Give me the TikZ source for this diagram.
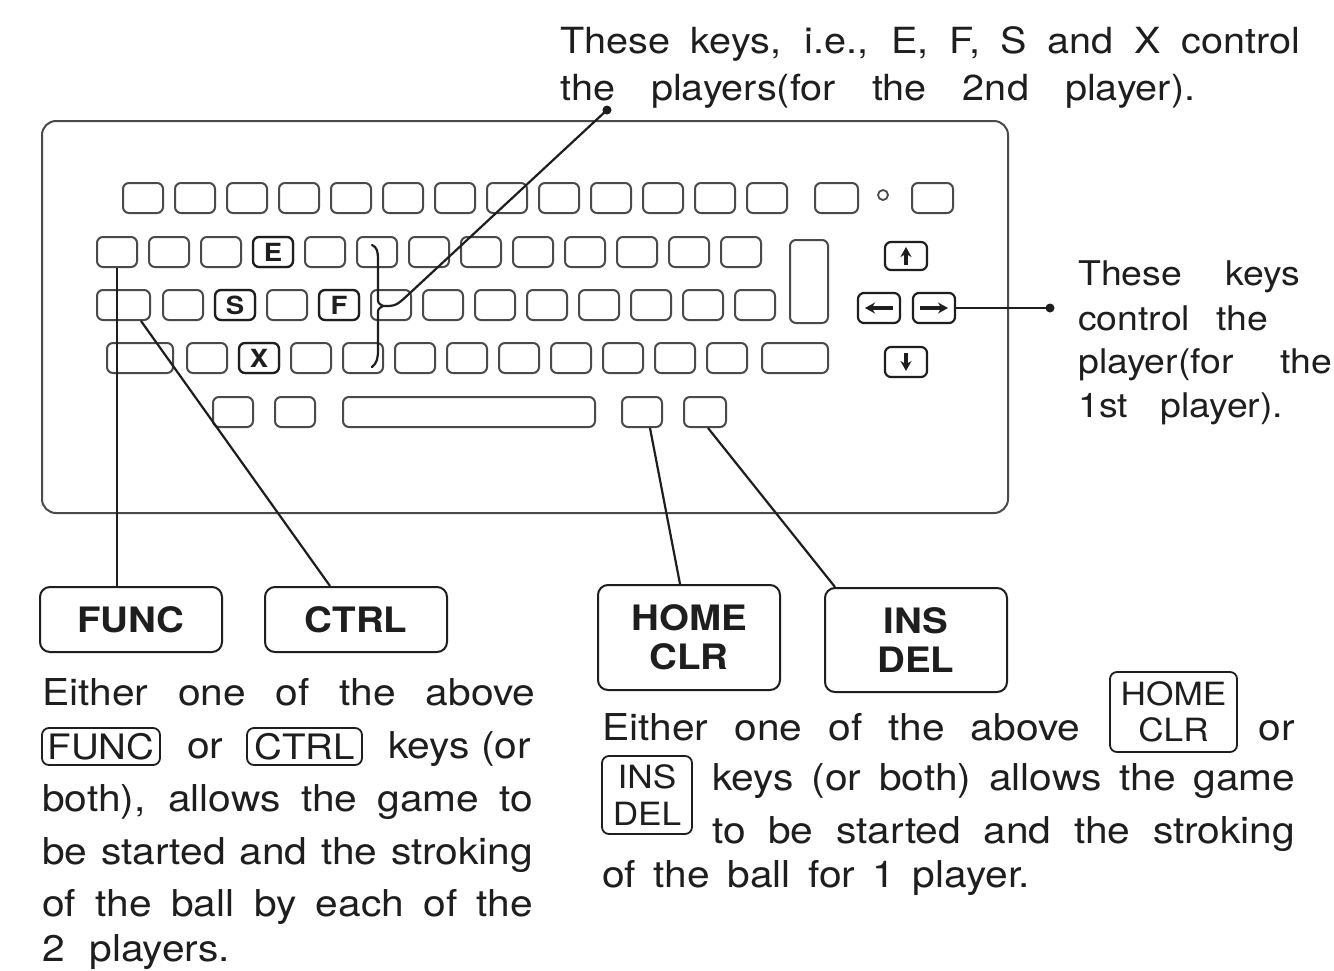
\documentclass[tikz,border=0pt]{standalone}
\usepackage{fontspec}
\setmainfont[FakeStretch=1.1]{TeX Gyre Heros}
\usetikzlibrary{arrows.meta}
\definecolor{ink}{HTML}{1E1E1E}
\definecolor{keygray}{HTML}{4A4A4A}
\tikzset{
  key/.style={draw=keygray, line width=2pt, rounded corners=6pt, minimum width=40pt, minimum height=30pt, inner sep=0pt},
  keyb/.style={key, draw=ink, line width=2.2pt},
  keylab/.style={font=\bfseries\fontsize{25}{25}\selectfont, text=ink, inner sep=0pt},
  lab/.style={draw=ink, line width=2pt, rounded corners=10pt, minimum width=182pt, inner sep=0pt, align=center, text=ink, font=\bfseries\fontsize{35}{39}\selectfont},
  ibox/.style={draw=ink, line width=1.8pt, rounded corners=7pt, inner sep=0pt, align=center, text=ink},
  body/.style={font=\fontsize{37}{44}\selectfont, text=ink, inner sep=0pt, anchor=base west},
  side/.style={font=\fontsize{34}{40}\selectfont, text=ink, inner sep=0pt, anchor=base west},
  lead/.style={draw=ink, line width=2.2pt},
  arr/.style={draw=ink, line width=3.2pt, -{Stealth[length=10pt,width=11pt]}},
  dot/.style={circle, fill=ink, inner sep=0pt, minimum size=9pt}
}
\begin{document}
\begin{tikzpicture}[x=1pt,y=-1pt]
\useasboundingbox (0,0) rectangle (1334,970);
\fill[white] (0,0) rectangle (1334,970);

% keyboard body
\draw[draw=keygray, line width=2pt, rounded corners=14pt] (42,121) rectangle (1008,513);

% row 1
\foreach \i in {0,...,12} \node[key] (r1k\i) at ({143+52*\i},198) {};
\node[key, minimum width=43pt] (r1a) at (836.5,198) {};
\node[circle, draw=keygray, line width=1.8pt, minimum size=10pt, inner sep=0pt] (deg) at (883,195) {};
\node[key, minimum width=41pt] (r1b) at (932.5,198) {};

% row 2
\foreach \i in {0,...,12} \node[key] (r2k\i) at ({117+52*\i},252) {};
\node[key, minimum width=38pt, minimum height=83pt] (ret) at (809,281.5) {};
\node[keyb, minimum width=42pt, minimum height=28pt] (up) at (906,256) {};

% row 3
\node[key, minimum width=53pt] (r3k0) at (123.5,305) {};
\foreach \i in {1,...,12} \node[key] (r3k\i) at ({131+52*\i},305) {};
\node[keyb, minimum width=42pt] (lt) at (879,308) {};
\node[keyb, minimum width=42pt] (rt) at (934,308) {};

% row 4
\node[key, minimum width=66pt] (r4k0) at (140,358) {};
\foreach \i in {1,...,11} \node[key] (r4k\i) at ({155+52*\i},358) {};
\node[key, minimum width=66pt] (r4k12) at (795,358) {};
\node[keyb, minimum width=42pt] (dn) at (906,362) {};

% row 5
\node[key] (r5k0) at (233,412) {};
\node[key] (r5k1) at (295,412) {};
\node[key, minimum width=252pt] (space) at (469,412) {};
\node[key] (r5k3) at (642,412) {};
\node[key, minimum width=42pt] (r5k4) at (705,412) {};

% marked keys
\node[keyb] (kE) at (r2k3) {};
\node[keylab] (lE) at (r2k3) {E};
\node[keyb] (kS) at (r3k2) {};
\node[keylab] (lS) at (r3k2) {S};
\node[keyb] (kF) at (r3k4) {};
\node[keylab] (lF) at (r3k4) {F};
\node[keyb] (kX) at (r4k2) {};
\node[keylab] (lX) at (r4k2) {X};

% arrow glyphs
\draw[arr] ([yshift=-9pt]up.center) -- ([yshift=9pt]up.center);
\draw[arr] ([yshift=9pt]dn.center) -- ([yshift=-9pt]dn.center);
\draw[arr] ([xshift=14pt]lt.center) -- ([xshift=-14pt]lt.center);
\draw[arr] ([xshift=-14pt]rt.center) -- ([xshift=14pt]rt.center);

% brace and top leader
\coordinate (tip) at (383,306);
\coordinate (bend) at (410,293);
\draw[lead, line cap=round] (372,245) .. controls (377,247) and (378,252) .. (378,259) -- (378,298) .. controls (378,303) .. (tip) .. controls (378,309) .. (378,314) -- (378,350) .. controls (378,358) and (377,363) .. (372,367);
\node[dot] (dtop) at (607,110) {};
\draw[lead] (tip) .. controls (396,306) .. (bend) -- (dtop.center);

% top text
\node[body, font=\fontsize{36}{44}\selectfont] (t1) at (560,53) {\makebox[740pt][s]{These keys, i.e., E, F, S and X control}};
\node[body, font=\fontsize{36}{44}\selectfont] (t2) at (560,100) {\makebox[635pt][s]{the players(for the 2nd player).}};

% right side text
\node[dot] (dright) at (1050,308) {};
\draw[lead] (rt.east) -- (dright.center);
\node[side] (s1) at (1078,285) {\makebox[222pt][s]{These keys}};
\node[side] (s2) at (1078,330) {\makebox[190pt][s]{control the}};
\node[side] (s3) at (1078,373) {\makebox[254pt][s]{player(for the}};
\node[side] (s4) at (1078,417) {\makebox[205pt][s]{1st player).}};

% label boxes
\node[lab, minimum height=65pt] (func) at (131,619.5) {FUNC};
\node[lab, minimum height=65pt] (ctrl) at (356,619.5) {CTRL};
\node[lab, minimum height=105pt] (home) at (689,637.5) {HOME\\CLR};
\node[lab, minimum height=104pt] (ins) at (916,640) {INS\\DEL};

% connectors to label boxes
\draw[lead] (r2k0.south) -- (r2k0.south |- func.north);
\draw[lead] ([xshift=-10pt]r3k0.south east) -- ([xshift=-26pt]ctrl.north);
\draw[lead] ([xshift=8pt]r5k3.south) -- ([xshift=-9pt]home.north);
\draw[lead] ([xshift=3pt]r5k4.south) -- ([xshift=-81pt]ins.north);

% left text
\node[body] (a1) at (42,705) {\makebox[493pt][s]{Either one of the above}};
\node[ibox, minimum width=118pt, minimum height=37pt, font=\fontsize{35}{35}\selectfont] (fi) at (101,746.5) {FUNC};
\node[body] (a2) at (187,758) {or};
\node[ibox, minimum width=115pt, minimum height=37pt, font=\fontsize{35}{35}\selectfont] (ci) at (304.5,746.5) {CTRL};
\node[body, anchor=base east] (a3) at (531,758) {keys (or};
\node[body] (a4) at (42,811) {\makebox[491pt][s]{both), allows the game to}};
\node[body] (a5) at (42,864) {\makebox[491pt][s]{be started and the stroking}};
\node[body] (a6) at (42,916) {\makebox[491pt][s]{of the ball by each of the}};
\node[body] (a7) at (42,961) {\makebox[188pt][s]{2 players.}};

% right text
\node[body] (b1) at (602,740) {\makebox[478pt][s]{Either one of the above}};
\node[ibox, minimum width=127pt, minimum height=80pt, font=\fontsize{32}{36}\selectfont] (hi) at (1173.5,712) {HOME\\CLR};
\node[body, anchor=base east] (b2) at (1295,740) {or};
\node[ibox, minimum width=90pt, minimum height=78pt, font=\fontsize{32}{37}\selectfont] (ii) at (647,795) {INS\\DEL};
\node[body] (b3) at (712,790) {\makebox[583pt][s]{keys (or both) allows the game}};
\node[body] (b4) at (712,843) {\makebox[583pt][s]{to be started and the stroking}};
\node[body] (b5) at (602,887) {\makebox[428pt][s]{of the ball for 1 player.}};
\end{tikzpicture}
\end{document}
